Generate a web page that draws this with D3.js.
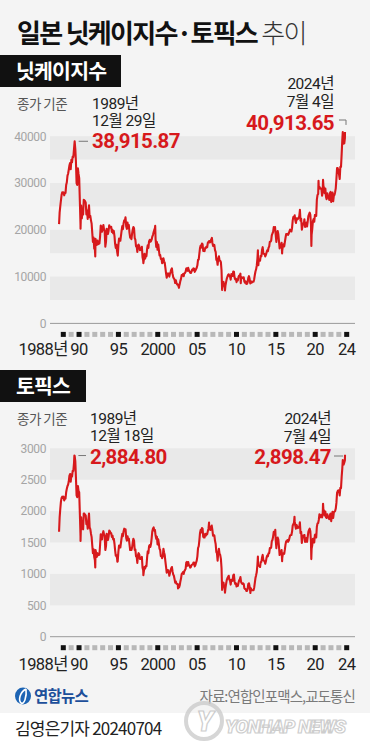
<!DOCTYPE html>
<html><head><meta charset="utf-8">
<script src="https://cdn.jsdelivr.net/npm/d3@7"></script>
<style>html,body{margin:0;padding:0;background:#fff}svg{display:block}</style>
</head><body>
<svg id="c" width="370" height="750"></svg>
<script>
// ---------- DATA ----------
const years = d3.range(1988, 2025);
const yearLabels = [[1988,"1988년"],[1990,"90"],[1995,"95"],[2000,"2000"],[2005,"05"],[2010,"10"],[2015,"15"],[2020,"20"],[2024,"24"]];
const majorYears = [1988,1990,1995,2000,2005,2010,2015,2020,2024];

const nikkeiTicks = [0,10000,20000,30000,40000];
const nikkeiBands = [[5000,10000],[15000,20000],[25000,30000],[35000,40000]];
const topixTicks = [0,500,1000,1500,2000,2500,3000];
const topixBands = [[500,1000],[1500,2000],[2500,3000]];

// month-end closes, Jan 1988 .. Jun 2024
const nikkeiMonthly = [
23719,25000,26260,27434,28000,27769,28000,27366,27924,27900,29579,30159,
31581,31985,32839,33713,34267,32949,34954,34431,35637,35549,37269,38916,
37189,34592,29980,29584,33131,31940,31036,25978,20984,25194,22455,23849,
23293,26409,26292,26111,25790,23291,24121,22336,23916,25222,22688,22984,
22023,21339,19346,17391,18348,15952,15910,18061,17399,16767,17684,16925,
17024,17098,18591,20919,20552,19590,20380,21027,20106,19704,16408,17417,
20229,19997,19112,19725,20974,20644,20462,20629,19564,19990,19263,19723,
18650,17053,16140,16807,15437,14517,16678,18117,17913,17655,18744,19868,
20813,20125,21407,22041,21956,22531,20693,20167,21556,20466,21020,19361,
18330,18557,18003,19151,20068,20605,20331,18229,17888,16459,16636,15259,
16628,16831,16527,15641,15671,15830,16379,14108,13406,13564,14883,13842,
14500,14368,15837,16702,16112,17530,17862,17437,17605,17942,18558,18934,
19540,19960,20337,17974,16332,17411,15727,16861,15747,14539,14649,13786,
13843,12884,12999,13934,13262,12969,11861,10714,9775,10366,10697,10543,
9998,10587,11025,11493,11764,10622,9877,9619,9383,8640,9216,8579,
8340,8363,7973,7831,8425,9083,9563,10344,10219,10560,10101,10677,
10784,11042,11715,11762,11236,11859,11326,11082,10824,10771,11069,11489,
11388,11741,11669,11009,11277,11584,11900,12414,13574,13607,14872,16111,
16650,16205,17060,16907,15467,15505,15457,16141,16128,16399,16274,17226,
17383,17604,17288,17400,17876,18138,17249,16569,16786,16737,15681,15308,
13592,13604,12526,13850,14338,13481,13377,13073,11260,8577,8512,8860,
7994,7568,8110,8828,9523,9958,10357,10493,10133,10035,9346,10546,
10198,10126,11090,11057,9769,9383,9537,8824,9369,9202,9937,10229,
10238,10624,9755,9850,9694,9816,9833,8955,8700,8988,8435,8455,
8803,9723,10084,9521,8543,9007,8695,8840,8870,8928,9446,10395,
11139,11559,12398,13861,13775,13677,13668,13389,14456,14328,15662,16291,
14915,14841,14828,14304,14632,15162,15621,15425,16174,16414,17460,17451,
17674,18798,19207,19520,20563,20236,20585,18890,17388,19083,19747,19034,
17518,16027,16759,16666,17235,15576,16569,16887,16450,17425,18308,19114,
19041,19119,18909,19197,19651,20033,19925,19646,20356,22012,22725,22765,
23098,22068,21454,22468,22202,22305,22554,22865,24120,21920,22351,20015,
20773,21385,21206,22259,20601,21276,21522,20704,21756,22927,23294,23657,
23205,21143,18917,20194,21878,22288,21710,23140,23185,22977,26434,27444,
27663,28966,29179,28813,28860,28792,27284,28090,29453,28893,27822,28792,
27002,26527,27821,26848,27280,26393,27802,28092,25937,27587,27969,26095,
27327,27446,28041,28856,30888,33189,33172,32619,31858,30859,33487,33464,
36287,39166,40369,38406,38488,39583
];
const nikkeiDaily = [
["1988-01-04",21217],["1990-10-01",20222],["1992-08-18",14309],["1995-07-03",14485],
["1996-06-26",22666],["1998-10-09",12880],["2000-04-12",20833],["2003-04-28",7607],
["2007-07-09",18262],["2008-10-27",7162],["2009-03-10",7055],["2011-03-15",8605],
["2013-05-22",15627],["2013-06-13",12445],["2016-06-24",14952],["2018-10-02",24270],
["2020-03-19",16552],["2021-02-16",30468],["2021-09-14",30670],["2024-03-22",40888],
["2024-07-04",40913.65]
];

const topixMonthly = [
1900,2030,2150,2210,2230,2210,2230,2170,2220,2200,2300,2357,
2400,2420,2470,2560,2590,2470,2580,2550,2640,2640,2760,2881,
2790,2540,2250,2220,2400,2320,2300,1950,1600,1900,1720,1733,
1710,1960,1960,1940,1930,1790,1830,1720,1870,1960,1740,1714,
1640,1590,1455,1330,1390,1270,1220,1380,1330,1270,1330,1307,
1300,1310,1460,1630,1600,1550,1640,1680,1630,1600,1380,1439,
1640,1620,1540,1590,1690,1680,1650,1650,1590,1610,1550,1559,
1480,1380,1290,1300,1250,1200,1350,1450,1450,1420,1500,1577,
1640,1600,1680,1720,1710,1710,1570,1530,1600,1540,1560,1470,
1380,1410,1380,1420,1500,1560,1530,1380,1390,1280,1280,1175,
1300,1330,1310,1240,1240,1240,1270,1100,1060,1040,1110,1087,
1130,1120,1260,1360,1330,1440,1460,1430,1480,1570,1680,1722,
1740,1690,1700,1610,1560,1590,1470,1550,1480,1400,1380,1284,
1290,1250,1280,1400,1340,1300,1200,1110,1020,1060,1060,1032,
970,1010,1060,1090,1110,1040,990,970,920,860,880,843,
840,840,790,785,820,880,930,1000,1010,1030,1000,1044,
1060,1080,1180,1190,1130,1190,1140,1130,1100,1110,1140,1150,
1150,1180,1180,1120,1140,1180,1210,1280,1410,1440,1530,1650,
1700,1660,1730,1720,1590,1580,1580,1640,1610,1640,1630,1681,
1720,1750,1710,1700,1750,1770,1700,1610,1620,1610,1530,1475,
1350,1330,1210,1340,1400,1320,1300,1240,1090,870,830,860,
790,750,770,840,900,930,950,970,910,890,830,907,
900,890,980,990,880,840,850,800,830,810,860,899,
910,950,870,850,840,850,840,770,760,760,730,729,
760,840,850,800,720,770,740,740,740,740,780,860,
940,980,1030,1150,1130,1130,1130,1110,1190,1190,1260,1302,
1220,1210,1200,1160,1200,1260,1290,1280,1330,1330,1410,1408,
1420,1520,1540,1590,1670,1630,1660,1540,1410,1560,1580,1547,
1430,1300,1350,1340,1380,1250,1320,1330,1320,1390,1470,1519,
1520,1540,1510,1530,1570,1610,1620,1620,1670,1770,1790,1818,
1840,1770,1720,1780,1750,1730,1750,1740,1820,1650,1670,1494,
1570,1610,1590,1620,1510,1550,1570,1510,1590,1670,1700,1721,
1680,1510,1400,1460,1560,1560,1500,1620,1630,1580,1750,1805,
1810,1860,1950,1900,1920,1940,1900,1960,2030,2000,1930,1992,
1900,1890,1950,1900,1910,1870,1940,1960,1840,1930,1990,1892,
1980,1990,2000,2040,2130,2290,2320,2330,2320,2250,2370,2366,
2550,2680,2770,2740,2770,2810
];
const topixDaily = [
["1988-01-04",1672],["1989-12-18",2884.80],["1990-10-01",1523],["1992-08-18",1102],
["1995-06-13",1193],["1998-10-09",980],["2003-03-11",770],["2007-02-26",1816],
["2008-10-27",746],["2009-03-10",700],["2012-06-04",695],["2013-05-22",1276],
["2015-08-10",1702],["2016-06-24",1204],["2018-01-23",1911],["2020-03-16",1236],
["2021-09-14",2118],["2024-03-22",2813],["2024-07-04",2898.47]
];

// ---------- BUILD ----------
const parse = d3.timeParse("%Y-%m-%d");
function series(monthly, daily){
  const pts = monthly.map((v,i)=>({d:new Date(1988, i+1, 0), v}));
  daily.forEach(([s,v])=>pts.push({d:parse(s), v}));
  return pts.sort((a,b)=>a.d-b.d);
}
const nikkei = series(nikkeiMonthly, nikkeiDaily);
const topix = series(topixMonthly, topixDaily);

const svg = d3.select("#c");
const KR = "'Noto Sans CJK KR','Noto Sans',sans-serif";
const NUM = "Roboto,'Noto Sans CJK KR',sans-serif";
const RED = "#d7191c";

svg.append("rect").attr("width",370).attr("height",713).attr("fill","#f4f4f4");
svg.append("rect").attr("y",713).attr("width",370).attr("height",37).attr("fill","#ffffff");

// title
const t = svg.append("text").attr("x",17).attr("y",43).attr("font-family",KR).attr("font-size",26)
  .attr("letter-spacing",-1.7).attr("fill","#111");
t.append("tspan").attr("font-weight",700).text("일본 닛케이지수·토픽스 ");
t.append("tspan").attr("font-weight",300).attr("fill","#333").text("추이");

const x = d3.scaleTime().domain([new Date(1988,0,1), new Date(2024,6,4)]).range([59, 345]);
const xs = d3.scalePoint().domain(years).range([63.3, 346.7]);

function panel(o){
  const y = d3.scaleLinear().domain(o.domain).range(o.range);
  const g = svg.append("g");
  // title box
  g.append("rect").attr("x",0).attr("y",o.boxY).attr("width",o.boxW).attr("height",32).attr("fill","#111");
  g.append("text").attr("x",16).attr("y",o.boxY+24).attr("font-family",KR).attr("font-weight",700)
    .attr("font-size",20.5).attr("letter-spacing",-0.8).attr("fill","#fff").text(o.name);
  // bands
  g.selectAll(".band").data(o.bands).join("rect")
    .attr("x",50).attr("width",305)
    .attr("y",d=>y(d[1])).attr("height",d=>y(d[0])-y(d[1])).attr("fill","#e9e9e9");
  // zero line
  g.append("line").attr("x1",50).attr("x2",355).attr("y1",y(0)).attr("y2",y(0))
    .attr("stroke","#9a9a9a").attr("stroke-width",1);
  // y axis
  const ay = g.append("g").attr("transform","translate(46,0)")
    .call(d3.axisLeft(y).tickValues(o.ticks).tickSize(0).tickPadding(0).tickFormat(d3.format("d")));
  ay.select(".domain").remove();
  ay.selectAll("text").attr("font-family",NUM).attr("font-size",12).attr("letter-spacing",-0.4).attr("fill","#a5a5a5");
  // year squares
  const sy = y(0)+11;
  g.selectAll(".sq").data(years).join("rect")
    .attr("x",d=>xs(d)-2.5).attr("y",sy-2.5).attr("width",5).attr("height",5)
    .attr("fill",d=>majorYears.includes(d)?"#111":"#b8b8b8");
  // year labels
  g.selectAll(".yl").data(yearLabels).join("text")
    .attr("x",d=>d[0]===1988?xs(d[0])+4.5:xs(d[0]))
    .attr("y",o.labelY)
    .attr("text-anchor",d=>d[0]===1988?"end":"middle")
    .attr("font-family",NUM).attr("font-size",16.5).attr("letter-spacing",-0.6).attr("fill","#222")
    .text(d=>d[1]);
  // line
  g.append("path").datum(o.data)
    .attr("d",d3.line().x(d=>x(d.d)).y(d=>y(d.v)))
    .attr("fill","none").attr("stroke",RED).attr("stroke-width",2.1).attr("stroke-linejoin","round");
  // annotations
  const small = (txt,xx,yy,anchor,fill,fam,size)=>g.append("text").attr("x",xx).attr("y",yy)
    .attr("text-anchor",anchor||"start").attr("font-family",fam||NUM).attr("font-size",size||15.5)
    .attr("letter-spacing",-0.5).attr("fill",fill||"#222").text(txt);
  small("종가 기준",17,o.a1,"start","#555",KR,13.5);
  small("1989년",o.lx,o.a1);
  small(o.peakDate,o.lx,o.a1+17);
  small("2024년",o.rx,o.a0,"end");
  small("7월 4일",o.rx,o.a0+17.5,"end");
  const big=(txt,xx,yy,anchor)=>g.append("text").attr("x",xx).attr("y",yy).attr("text-anchor",anchor)
    .attr("font-family",NUM).attr("font-weight",700).attr("font-size",20.5).attr("letter-spacing",-0.6)
    .attr("fill",RED).text(txt);
  big(o.peakText,o.lx,o.peakY,"start");
  big(o.lastText,o.rx,o.lastY,"end");
  // leaders
  const pk = o.data.find(d=>d.v===o.peakVal);
  g.append("line").attr("x1",x(pk.d)+4).attr("x2",o.lx-4).attr("y1",y(pk.v)).attr("y2",y(pk.v))
    .attr("stroke","#777").attr("stroke-width",1);
  const last = o.data[o.data.length-1];
  g.append("path").attr("d",o.bracket(x(last.d),y(last.v)))
    .attr("fill","none").attr("stroke","#777").attr("stroke-width",1);
}

panel({name:"닛케이지수", boxY:55, boxW:121, domain:[0,40000], range:[323.4,136.2],
  ticks:nikkeiTicks, bands:nikkeiBands, data:nikkei, labelY:355,
  a0:89, a1:109, lx:92, rx:334, peakDate:"12월 29일", peakText:"38,915.87", peakY:148,
  lastText:"40,913.65", lastY:129.5, peakVal:38916,
  bracket:(lx,ly)=>`M339,120H${lx+1}V${ly-7}`});

panel({name:"토픽스", boxY:370, boxW:86, domain:[0,3000], range:[636.7,448.3],
  ticks:topixTicks, bands:topixBands, data:topix, labelY:670,
  a0:424, a1:424, lx:90, rx:331, peakDate:"12월 18일", peakText:"2,884.80", peakY:464,
  lastText:"2,898.47", lastY:464, peakVal:2884.80,
  bracket:(lx,ly)=>`M334,456H${lx-2}`});

// footer
const lg = svg.append("g");
lg.append("ellipse").attr("cx",23).attr("cy",696).attr("rx",8).attr("ry",8.5).attr("fill","#1d64b4");
lg.append("path").attr("d","M26,689 C20,692 18,700 21,703 C24,705 27,697 26,689").attr("fill","none")
  .attr("stroke","#fff").attr("stroke-width",1.6);
lg.append("text").attr("x",34).attr("y",702).attr("font-family",KR).attr("font-weight",700)
  .attr("font-size",15.5).attr("letter-spacing",-0.8).attr("fill","#1d4f9a").text("연합뉴스");
svg.append("text").attr("x",355).attr("y",702).attr("text-anchor","end").attr("font-family",KR)
  .attr("font-size",14.5).attr("letter-spacing",-0.9).attr("fill","#7a7a7a").text("자료:연합인포맥스,교도통신");
svg.append("text").attr("x",15).attr("y",735).attr("font-family",KR)
  .attr("font-size",17).attr("letter-spacing",-0.8).attr("fill","#222").text("김영은기자 20240704");
// watermark
const wm = svg.append("g").attr("opacity",0.75);
wm.append("circle").attr("cx",204).attr("cy",721).attr("r",18).attr("fill","none").attr("stroke","#c9c9c9").attr("stroke-width",4);
wm.append("text").attr("x",205).attr("y",731).attr("text-anchor","middle").attr("font-family",NUM)
  .attr("font-style","italic").attr("font-weight",900).attr("font-size",27).attr("fill","#fff")
  .attr("stroke","#bdbdbd").attr("stroke-width",1.2).text("Y");
wm.append("text").attr("x",225).attr("y",733).attr("font-family",NUM).attr("font-style","italic")
  .attr("font-weight",900).attr("font-size",19).attr("letter-spacing",-0.9).attr("fill","#fff")
  .attr("stroke","#bdbdbd").attr("stroke-width",1.2).text("YONHAP NEWS");
</script>
</body></html>
